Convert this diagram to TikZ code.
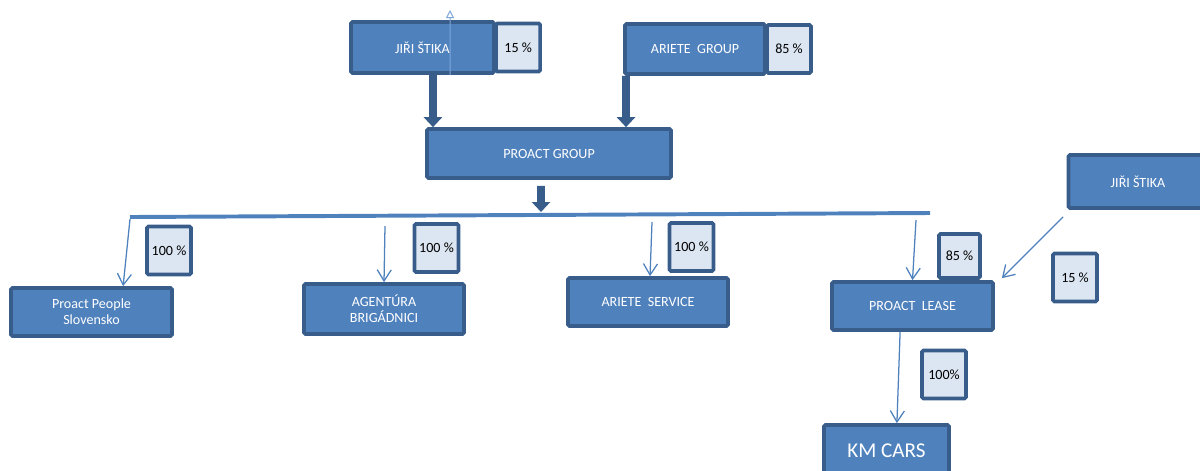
\documentclass[tikz,border=0pt]{standalone}
\usepackage{fontspec}
\setmainfont{Carlito}
\usetikzlibrary{arrows.meta,positioning}

\definecolor{boxblue}{HTML}{4F81BD}
\definecolor{boxedge}{HTML}{385D8A}
\definecolor{sharefill}{HTML}{DCE6F2}
\definecolor{tracer}{HTML}{7FA6D8}

\begin{document}
\begin{tikzpicture}[x=0.025cm,y=-0.025cm,on grid,
        firm/.style={draw=boxedge,fill=boxblue,line width=2.6pt,rounded corners=1pt,text=white,
            font=\fontsize{10}{11.5}\selectfont,align=center,minimum width=4cm,minimum height=1.2cm},
        share/.style={draw=boxedge,fill=sharefill,line width=2.6pt,rounded corners=1pt,inner sep=1pt,
            font=\fontsize{10}{11.5}\selectfont,minimum width=1.1cm,minimum height=1.2cm},
        heavy/.style={color=boxedge,line width=5.5pt,-{Triangle[length=0.25cm,width=0.45cm]}},
        feed/.style={color=boxblue,line width=0.9pt,-{Straight Barb[length=0.28cm,width=0.35cm]}}]
        \path[use as bounding box,clip] (0,0) rectangle (1200,470);
        \coordinate (bar_w) at (130,217);
        \coordinate (bar_e) at (930,213);
        \draw[draw=boxblue,line width=2.8pt] (bar_w) -- (bar_e);
        \node[firm,minimum width=3.575cm,minimum height=1.275cm] (jiri) at (422.5,47.5) {JIŘI ŠTIKA};
        \node[share] (share_jiri) [right=2.39cm of jiri] {15 \%};
        \node[firm,minimum width=3.5cm,minimum height=1.25cm] (ariete) at (695,49) {ARIETE~~GROUP};
        \node[share] (share_ariete) [right=2.35cm of ariete] {85 \%};
        \node[firm,minimum width=6.1cm,minimum height=1.225cm] (proact) at (549,153.5) {PROACT GROUP};
        \node[firm,minimum width=4.025cm] (pps) at (91.5,312) {Proact People\\Slovensko};
        \node[firm,minimum height=1.25cm] (agentura) at (384,309) {AGENTÚRA\\BRIGÁDNICI};
        \node[firm] (service) at (648,302) {ARIETE~~SERVICE};
        \node[firm,minimum width=4.025cm] (lease) at (912.5,306) {PROACT~~LEASE};
        \node[firm,minimum width=3.125cm,minimum height=1.275cm,font=\fontsize{15}{18}\selectfont] (kmcars) at (886.5,450.5) {KM CARS};
        \node[firm,minimum width=3.475cm,minimum height=1.325cm] (jiri_2) at (1138,181.5) {JIŘI ŠTIKA};
        \node[share] (share_pps) at (169,250.5) {100 \%};
        \node[share] (share_agentura) at (436.5,248) {100 \%};
        \node[share] (share_service) at (691.5,247) {100 \%};
        \node[share,minimum width=1.025cm,minimum height=1.1cm] (share_lease) at (959.5,256) {85 \%};
        \node[share] (share_jiri_2) at (1075,277.5) {15 \%};
        \node[share] (share_kmcars) at (944,374.5) {100\%};
        \coordinate (bar_drop) at (541,212);
        \coordinate (jiri_top) at (450,10);
        \coordinate (drop_pps) at (130,219);
        \coordinate (drop_agentura) at (385,226);
        \coordinate (drop_service) at (652,222);
        \coordinate (drop_lease) at (916,220);
        \path[heavy]
        ([xshift=0.26cm]jiri.south) edge ([xshift=-2.9cm]proact.north)
        ([xshift=-1.725cm]ariete.south) edge ([xshift=1.925cm]proact.north)
        ([xshift=-0.2cm,yshift=-0.15cm]proact.south) edge (bar_drop);
        \path[color=tracer,line width=0.7pt,-{Triangle[open,length=0.2cm,width=0.2cm]}]
        ([xshift=0.69cm]jiri.south) edge (jiri_top);
        \path[feed]
        (drop_pps) edge ([xshift=0.79cm]pps.north)
        (drop_agentura) edge (agentura.north)
        (drop_service) edge ([xshift=0.05cm]service.north)
        (drop_lease) edge (lease.north)
        ([xshift=-0.09cm,yshift=-0.175cm]jiri_2.south west) edge ([xshift=0.175cm,yshift=0.05cm]lease.north east)
        ([xshift=-0.31cm]lease.south) edge ([xshift=0.26cm]kmcars.north);
    \end{tikzpicture}
\end{document}
